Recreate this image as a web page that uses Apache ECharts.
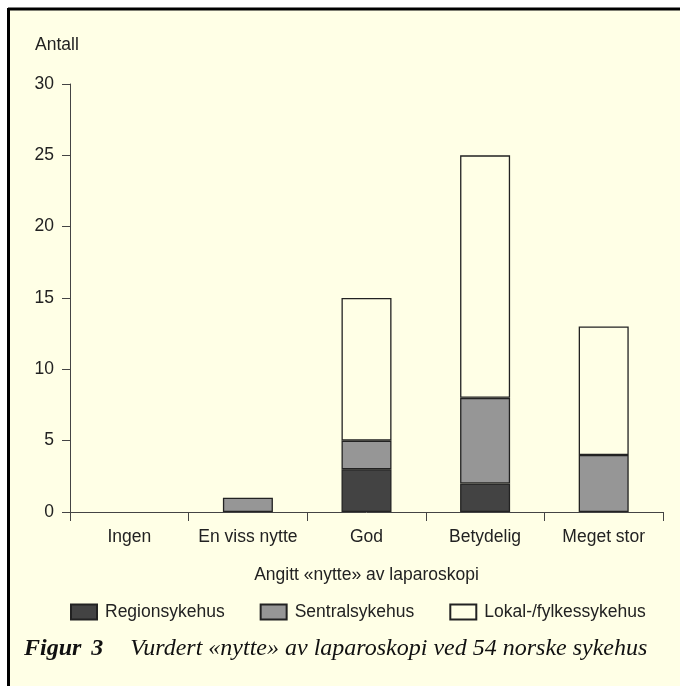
<!DOCTYPE html>
<html><head><meta charset="utf-8">
<script src="https://cdn.jsdelivr.net/npm/echarts@6/dist/echarts.min.js"></script>
<style>html,body{margin:0;padding:0;background:#fff}#c{width:680px;height:686px}</style>
</head><body><div id="c"></div>
<script>
const categories = ['Ingen', 'En viss nytte', 'God', 'Betydelig', 'Meget stor'];
const regionsykehus = [0, 0, 3, 2, 0];
const sentralsykehus = [0, 1, 2, 6, 4];
const lokalsykehus = [0, 0, 10, 17, 9];
const seriesNames = ['Regionsykehus', 'Sentralsykehus', 'Lokal-/fylkessykehus'];
const yTicks = [0, 5, 10, 15, 20, 25, 30];

const BG = '#ffffe6';
const SANS = '"Liberation Sans", Arial, sans-serif';
const SERIF = '"Liberation Serif", "Times New Roman", serif';
const fills = ['#434343', '#969696', BG];
const nz = a => a.map(v => v === 0 ? null : v);
const dataSets = [regionsykehus, sentralsykehus, lokalsykehus];

const chart = echarts.init(document.getElementById('c'), null, {renderer: 'canvas'});
chart.setOption({
  backgroundColor: '#fff',
  animation: false,
  graphic: [
    {type: 'rect', z: -10, shape: {x: 9, y: 9, width: 671, height: 677}, style: {fill: BG}},
    {type: 'line', z: 100, shape: {x1: 8, y1: 9, x2: 680, y2: 9}, style: {stroke: '#000', lineWidth: 3}},
    {type: 'line', z: 100, shape: {x1: 8.5, y1: 8, x2: 8.5, y2: 686}, style: {stroke: '#000', lineWidth: 3}}
  ],
  title: [
    {text: 'Antall', left: 35, top: 36, padding: 0, textStyle: {fontFamily: SANS, fontSize: 17.5, fontWeight: 'normal', color: '#222'}},
    {text: '{b|Figur}{b2|3}{i|Vurdert «nytte» av laparoskopi ved 54 norske sykehus}', left: 24, top: 637, padding: 0,
      textStyle: {rich: {
        b: {fontFamily: SERIF, fontSize: 24, fontWeight: 'bold', fontStyle: 'italic', color: '#111'},
        b2: {fontFamily: SERIF, fontSize: 24, fontWeight: 'bold', fontStyle: 'italic', color: '#111', padding: [0, 0, 0, 10]},
        i: {fontFamily: SERIF, fontSize: 24, fontWeight: 'normal', fontStyle: 'italic', color: '#111', padding: [0, 0, 0, 27]}
      }}}
  ],
  legend: {
    left: 70, top: 603, padding: 0, icon: 'rect', itemWidth: 26, itemHeight: 15, itemGap: 35,
    textStyle: {fontFamily: SANS, fontSize: 17.5, color: '#222', padding: [0, 0, 0, 3]},
    data: seriesNames
  },
  grid: {left: 70, right: 17, top: 84, bottom: 174, containLabel: false},
  xAxis: {
    type: 'category', data: categories,
    name: 'Angitt «nytte» av laparoskopi', nameLocation: 'middle', nameGap: 54,
    nameTextStyle: {fontFamily: SANS, fontSize: 17.5, color: '#222'},
    axisLine: {lineStyle: {color: '#444', width: 1}},
    axisTick: {show: true, length: 9, interval: 0, lineStyle: {color: '#444'}},
    axisLabel: {fontFamily: SANS, fontSize: 17.5, color: '#222', margin: 16, interval: 0}
  },
  yAxis: {
    type: 'value', min: 0, max: 30, interval: 5,
    axisLine: {show: true, lineStyle: {color: '#444', width: 1}},
    axisTick: {show: true, length: 8, lineStyle: {color: '#444'}},
    splitLine: {show: false},
    axisLabel: {fontFamily: SANS, fontSize: 17.5, color: '#222', margin: 16,
      formatter: v => yTicks.includes(v) ? String(v) : ''}
  },
  series: seriesNames.map((n, i) => ({
    name: n, type: 'bar', stack: 'a', barWidth: 50,
    data: nz(dataSets[i]),
    itemStyle: {color: fills[i], borderColor: '#222', borderWidth: 1.3}
  }))
});
</script></body></html>
